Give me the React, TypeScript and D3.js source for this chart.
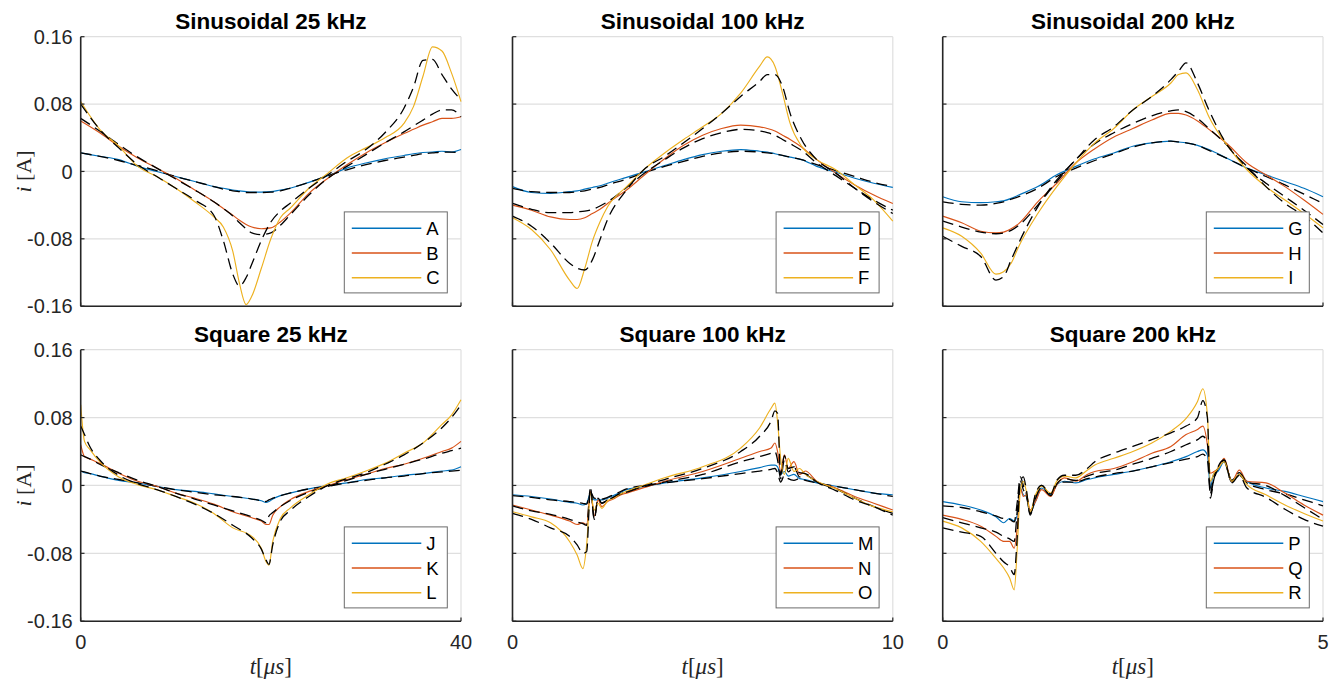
import React from 'react';
import * as d3 from 'd3';

// ---------- data ----------
const panelTitles = ['Sinusoidal 25 kHz', 'Sinusoidal 100 kHz', 'Sinusoidal 200 kHz', 'Square 25 kHz', 'Square 100 kHz', 'Square 200 kHz'];
const panelXMax = [40, 10, 5, 40, 10, 5];
const legendLabels = [['A', 'B', 'C'], ['D', 'E', 'F'], ['G', 'H', 'I'], ['J', 'K', 'L'], ['M', 'N', 'O'], ['P', 'Q', 'R']];
const yTicks = [-0.16, -0.08, 0, 0.08, 0.16];
const yTickLabels = ['-0.16', '-0.08', '0', '0.08', '0.16'];
const seriesColors = ['#0072BD', '#D95319', '#EDB120'];

// Sinusoidal 25 kHz (t in µs)
const p1T = [0, 2, 4, 6, 8, 10, 12, 14, 15, 16, 16.7, 17.4, 18, 19, 20, 21, 22, 24, 26, 28, 30, 32, 34, 35, 36, 37, 38, 39, 40];
const sA = [.022, .018, .014, .006, 0, -.006, -.012, -.018, -.020, -.022, -.023, -.024, -.0245, -.0245, -.024, -.022, -.020, -.013, -.005, .004, .010, .015, .019, .021, .0225, .023, .024, .023, .026];
const mA = [.022, .018, .013, .007, .001, -.006, -.012, -.018, -.021, -.023, -.024, -.025, -.025, -.025, -.0245, -.023, -.020, -.013, -.005, .002, .008, .013, .017, .019, .021, .022, .023, .023, .022];
const sB = [.060, .046, .030, .016, .004, -.008, -.022, -.036, -.044, -.052, -.058, -.063, -.066, -.068, -.067, -.060, -.050, -.026, -.008, .008, .022, .034, .045, .050, .055, .059, .063, .063, .065];
const mB = [.063, .048, .032, .017, .004, -.009, -.022, -.036, -.044, -.053, -.061, -.068, -.073, -.075, -.073, -.064, -.052, -.028, -.008, .006, .020, .034, .047, .054, .061, .068, .073, .073, .065];
const sC = [.083, .050, .030, .006, -.006, -.020, -.036, -.054, -.066, -.095, -.133, -.158, -.148, -.115, -.080, -.055, -.044, -.020, -.002, .016, .028, .040, .057, .077, .113, .148, .143, .117, .083];
const mC = [.080, .050, .028, .008, -.006, -.020, -.034, -.052, -.082, -.122, -.136, -.126, -.110, -.082, -.060, -.047, -.038, -.020, -.004, .012, .026, .046, .075, .100, .132, .133, .115, .098, .085];

// Sinusoidal 100 kHz
const p2T = [0, 0.5, 1, 1.5, 1.7, 1.9, 2.1, 2.3, 2.5, 3, 3.5, 4, 4.5, 5, 5.5, 6, 6.5, 6.7, 6.9, 7.1, 7.3, 7.6, 8, 8.5, 9, 9.5, 10];
const sD = [-.018, -.025, -.026, -.024, -.023, -.021, -.019, -.017, -.014, -.007, .000, .007, .014, .020, .024, .026, .024, .023, .021, .019, .017, .014, .006, -.001, -.008, -.014, -.019];
const mD = [-.020, -.024, -.025, -.025, -.024, -.023, -.021, -.019, -.016, -.009, -.001, .006, .012, .018, .022, .024, .023, .022, .021, .019, .017, .014, .008, .001, -.006, -.013, -.018];
const sE = [-.040, -.046, -.054, -.057, -.057, -.055, -.050, -.045, -.038, -.022, -.003, .015, .031, .043, .051, .055, .053, .051, .048, .043, .038, .029, .014, -.002, -.016, -.028, -.038];
const mE = [-.038, -.045, -.049, -.049, -.048, -.047, -.045, -.041, -.036, -.019, -.001, .014, .028, .039, .046, .050, .048, .046, .043, .038, .033, .025, .010, -.005, -.020, -.034, -.046];
const sF = [-.055, -.069, -.093, -.129, -.139, -.115, -.083, -.060, -.042, -.018, .004, .022, .038, .053, .069, .093, .125, .136, .125, .093, .057, .030, .014, .002, -.016, -.034, -.059];
const mF = [-.053, -.065, -.085, -.109, -.115, -.117, -.105, -.081, -.057, -.022, .004, .018, .034, .051, .069, .089, .107, .115, .115, .101, .069, .038, .014, -.002, -.020, -.036, -.050];

// Sinusoidal 200 kHz
const p3T = [0, 0.25, 0.5, 0.7, 0.8, 0.9, 1, 1.25, 1.5, 1.75, 2, 2.25, 2.5, 2.75, 3, 3.1, 3.2, 3.35, 3.5, 3.75, 4, 4.25, 4.5, 4.75, 5];
const sG = [-.030, -.036, -.037, -.036, -.035, -.032, -.028, -.018, -.004, .006, .015, .022, .030, .034, .036, .035, .034, .031, .026, .015, .004, -.004, -.012, -.020, -.030];
const mG = [-.036, -.039, -.040, -.038, -.036, -.033, -.030, -.020, -.006, .004, .013, .021, .029, .034, .036, .035, .034, .031, .025, .015, .004, -.006, -.016, -.027, -.038];
const sH = [-.053, -.061, -.071, -.073, -.072, -.068, -.062, -.036, -.014, .010, .027, .041, .051, .061, .069, .069, .067, .060, .050, .032, .010, -.004, -.018, -.034, -.051];
const mH = [-.059, -.066, -.072, -.074, -.073, -.070, -.064, -.040, -.012, .014, .033, .046, .057, .066, .072, .073, .071, .063, .051, .030, .004, -.014, -.030, -.046, -.063];
const sI = [-.067, -.077, -.097, -.122, -.119, -.109, -.089, -.050, -.018, .010, .034, .051, .073, .089, .105, .115, .117, .097, .065, .030, .002, -.018, -.034, -.050, -.067];
const mI = [-.077, -.089, -.101, -.129, -.125, -.105, -.085, -.042, -.010, .014, .038, .053, .073, .089, .109, .119, .129, .105, .073, .030, .006, -.018, -.038, -.053, -.073];

// Square 25 kHz
const p4T = [0, 0.4, 1, 2, 4, 6, 8, 10, 12, 14, 16, 18, 19, 19.5, 19.8, 20.2, 21, 22, 24, 26, 28, 30, 32, 34, 36, 38, 39, 40];
const sJ = [.017, .015, .014, .011, .006, .003, -.001, -.005, -.007, -.010, -.013, -.016, -.018, -.020, -.019, -.016, -.012, -.009, -.004, .000, .003, .007, .009, .012, .014, .017, .018, .022];
const mJ = [.017, .016, .014, .011, .007, .003, -.001, -.005, -.008, -.011, -.013, -.016, -.018, -.019, -.017, -.015, -.012, -.009, -.004, -.001, .003, .006, .009, .011, .014, .016, .017, .018];
const sK = [.048, .034, .031, .026, .0145, .005, -.001, -.009, -.015, -.022, -.031, -.038, -.042, -.046, -.046, -.035, -.025, -.017, -.007, .000, .007, .013, .020, .025, .032, .040, .044, .052];
const mK = [.036, .034, .031, .025, .015, .006, -.001, -.009, -.016, -.023, -.030, -.037, -.041, -.044, -.036, -.032, -.025, -.018, -.008, -.001, .006, .013, .019, .025, .031, .038, .041, .044];
const sL = [.095, .052, .042, .028, .010, .001, -.005, -.013, -.021, -.033, -.050, -.060, -.074, -.090, -.094, -.066, -.039, -.027, -.011, .002, .009, .017, .026, .038, .050, .072, .083, .101];
const mL = [.070, .060, .045, .030, .012, .002, -.005, -.013, -.022, -.033, -.047, -.062, -.075, -.088, -.093, -.070, -.042, -.030, -.013, .000, .008, .015, .025, .036, .050, .068, .080, .095];

// Square 100 kHz
const p5T = [0, 0.5, 1, 1.5, 1.7, 1.85, 1.95, 2.05, 2.15, 2.25, 2.35, 2.5, 2.65, 2.8, 3, 3.5, 4, 5, 6, 6.5, 6.8, 6.9, 6.97, 7.05, 7.15, 7.25, 7.4, 7.55, 7.7, 8, 8.5, 9, 9.5, 10];
const sM = [-.011, -.013, -.016, -.020, -.021, -.023, -.021, -.009, -.017, -.017, -.017, -.015, -.012, -.009, -.005, -.001, .003, .009, .0165, .021, .024, .024, .022, .013, .0165, .011, .013, .008, .007, .003, -.001, -.005, -.009, -.011];
const mM = [-.012, -.014, -.017, -.019, -.020, -.021, -.022, -.008, -.015, -.016, -.016, -.014, -.011, -.008, -.004, .000, .003, .008, .014, .017, .019, .020, .015, .004, .012, .008, .006, .008, .006, .003, -.001, -.005, -.009, -.013];
const sN = [-.023, -.029, -.035, -.042, -.046, -.044, -.046, -.007, -.036, -.017, -.025, -.019, -.016, -.012, -.009, -.002, .005, .0165, .032, .040, .044, .050, .040, .0165, .036, .020, .028, .013, .017, .005, -.003, -.013, -.021, -.029];
const mN = [-.024, -.030, -.034, -.040, -.043, -.045, -.047, -.003, -.040, -.015, -.021, -.017, -.014, -.011, -.007, -.001, .004, .013, .028, .034, .038, .040, .030, .008, .030, .016, .022, .010, .012, .004, -.004, -.015, -.025, -.033];
const sO = [-.031, -.037, -.044, -.066, -.082, -.098, -.070, -.009, -.029, -.021, -.027, -.018, -.015, -.011, -.007, .001, .009, .022, .044, .068, .091, .097, .075, .032, .013, .032, .0165, .020, .013, .005, -.004, -.015, -.025, -.031];
const mO = [-.033, -.040, -.050, -.060, -.070, -.080, -.078, -.003, -.040, -.015, -.021, -.017, -.014, -.010, -.008, .000, .007, .020, .040, .058, .076, .088, .085, .012, .035, .020, .022, .015, .014, .004, -.006, -.017, -.025, -.035];

// Square 200 kHz
const p6T = [0, 0.25, 0.5, 0.7, 0.8, 0.88, 0.94, 0.98, 1.02, 1.06, 1.1, 1.15, 1.22, 1.3, 1.42, 1.5, 1.6, 1.75, 1.9, 2, 2.25, 2.5, 2.75, 3, 3.2, 3.35, 3.42, 3.48, 3.52, 3.56, 3.62, 3.7, 3.8, 3.9, 4, 4.25, 4.5, 4.75, 5];
const sP = [-.019, -.023, -.029, -.037, -.044, -.039, -.042, -.035, -.003, -.011, -.013, -.031, -.019, -.003, -.011, .001, .005, .003, .007, .009, .013, .017, .022, .028, .034, .040, .042, .036, -.003, .013, .0165, .028, .005, .013, .005, -.003, -.007, -.013, -.019];
const mP = [-.024, -.026, -.031, -.036, -.039, -.040, -.043, -.020, .010, .000, -.010, -.033, -.015, .000, -.012, .001, .004, .004, .008, .010, .014, .017, .022, .027, .031, .034, .037, .030, -.010, .005, .020, .028, .004, .012, .003, -.005, -.010, -.017, -.024];
const sQ = [-.035, -.040, -.048, -.060, -.066, -.066, -.074, -.050, -.003, -.013, -.011, -.029, -.019, -.005, -.013, .001, .009, .005, .013, .0165, .020, .028, .038, .046, .060, .066, .070, .048, .0145, .016, .020, .032, .005, .018, .005, .003, -.009, -.023, -.035];
const mQ = [-.038, -.044, -.050, -.055, -.060, -.063, -.066, -.030, .005, -.005, -.012, -.033, -.015, -.002, -.012, .002, .008, .006, .011, .014, .018, .025, .032, .040, .048, .054, .058, .050, -.010, .010, .020, .030, .006, .015, .004, .000, -.012, -.026, -.040];
const sR = [-.042, -.050, -.066, -.086, -.097, -.109, -.123, -.074, -.007, .005, -.007, -.031, -.011, -.001, -.009, .005, .011, .009, .018, .024, .032, .040, .050, .064, .079, .099, .114, .083, .005, .013, .020, .028, .005, .013, .001, -.011, -.023, -.033, -.042];
const mR = [-.050, -.055, -.060, -.080, -.090, -.096, -.105, -.060, .005, .010, -.005, -.035, -.010, .000, -.010, .006, .012, .012, .020, .028, .038, .046, .054, .062, .070, .080, .100, .080, -.015, .005, .022, .030, .003, .012, -.003, -.014, -.028, -.040, -.048];

const panelTimes = [p1T, p2T, p3T, p4T, p5T, p6T];
const panelMeasured = [[sA, sB, sC], [sD, sE, sF], [sG, sH, sI], [sJ, sK, sL], [sM, sN, sO], [sP, sQ, sR]];
const panelModels = [[mA, mB, mC], [mD, mE, mF], [mG, mH, mI], [mJ, mK, mL], [mM, mN, mO], [mP, mQ, mR]];

// ---------- layout ----------
const W = 1339;
const H = 685;
const colLeft = [80.7, 512.5, 942.7];
const axW = 380.3;
const rowTop = [36.7, 349.7];
const rowBottom = [306.2, 621.2];
const SANS = '"Liberation Sans", Arial, Helvetica, sans-serif';
const SERIF = '"Liberation Serif", "Times New Roman", serif';
const AX = '#262626';
const GRID = '#dfdfdf';

function Panel({ idx }: { idx: number }) {
  const col = idx % 3;
  const row = Math.floor(idx / 3);
  const left = colLeft[col];
  const right = left + axW;
  const top = rowTop[row];
  const bottom = rowBottom[row];
  const x = d3.scaleLinear().domain([0, panelXMax[idx]]).range([left, right]);
  const y = d3.scaleLinear().domain([-0.16, 0.16]).range([bottom, top]);
  const ts = panelTimes[idx];
  const line = d3.line<number>()
    .x((_, i) => x(ts[i]))
    .y((v) => y(v))
    .curve(d3.curveMonotoneX);
  const clipId = `clip${idx}`;
  const xTicks = [0, panelXMax[idx]];

  const legW = 103;
  const legH = 81;
  const legRight = right - 13.7;
  const legLeft = legRight - legW;
  const legBottom = bottom - 13.3;
  const legTop = legBottom - legH;

  const curves: JSX.Element[] = [];
  for (let s = 0; s < 3; s++) {
    curves.push(
      <path key={`m${s}`} d={line(panelMeasured[idx][s]) || ''} fill="none" stroke={seriesColors[s]} strokeWidth={1.15} strokeLinejoin="round" />
    );
    curves.push(
      <path key={`d${s}`} d={line(panelModels[idx][s]) || ''} fill="none" stroke="#000" strokeWidth={1.3} strokeDasharray="11,6" />
    );
  }

  return (
    <g>
      <defs>
        <clipPath id={clipId}>
          <rect x={left} y={top - 1} width={axW + 1} height={bottom - top + 2} />
        </clipPath>
      </defs>
      {/* grid */}
      {yTicks.map((v) => (
        <line key={`gy${v}`} x1={left} x2={right} y1={y(v)} y2={y(v)} stroke={GRID} strokeWidth={1.2} />
      ))}
      {xTicks.map((v) => (
        <line key={`gx${v}`} x1={x(v)} x2={x(v)} y1={top} y2={bottom} stroke={GRID} strokeWidth={1.2} />
      ))}
      {/* curves */}
      <g clipPath={`url(#${clipId})`}>{curves}</g>
      {/* axes */}
      <line x1={left} x2={left} y1={top} y2={bottom} stroke={AX} strokeWidth={1.6} />
      <line x1={left} x2={right} y1={bottom} y2={bottom} stroke={AX} strokeWidth={1.6} />
      {yTicks.map((v) => (
        <line key={`ty${v}`} x1={left} x2={left + 3.8} y1={y(v)} y2={y(v)} stroke={AX} strokeWidth={1.2} />
      ))}
      {xTicks.map((v) => (
        <line key={`tx${v}`} x1={x(v)} x2={x(v)} y1={bottom} y2={bottom - 3.8} stroke={AX} strokeWidth={1.2} />
      ))}
      {/* y tick labels */}
      {col === 0 && yTicks.map((v, i) => (
        <text key={`yl${v}`} x={left - 8} y={y(v)} dy="0.36em" textAnchor="end" fontFamily={SANS} fontSize={20} fill={AX}>
          {yTickLabels[i]}
        </text>
      ))}
      {/* x tick labels */}
      {row === 1 && xTicks.map((v) => (
        <text key={`xl${v}`} x={x(v)} y={649} textAnchor="middle" fontFamily={SANS} fontSize={20} fill={AX}>
          {String(v)}
        </text>
      ))}
      {/* title */}
      <text x={(left + right) / 2} y={row === 0 ? 28.5 : 341.5} textAnchor="middle" fontFamily={SANS} fontWeight="bold" fontSize={22.5} fill="#000">
        {panelTitles[idx]}
      </text>
      {/* y label */}
      {col === 0 && (
        <text transform={`translate(31, ${(top + bottom) / 2}) rotate(-90)`} textAnchor="middle" fontFamily={SERIF} fontSize={22} fill={AX}>
          <tspan fontStyle="italic">i</tspan>
          <tspan> [A]</tspan>
        </text>
      )}
      {/* x label */}
      {row === 1 && (
        <text x={(left + right) / 2} y={674} textAnchor="middle" fontFamily={SERIF} fontSize={23} fill={AX}>
          <tspan fontStyle="italic">t</tspan>
          <tspan>[</tspan>
          <tspan fontStyle="italic">μs</tspan>
          <tspan>]</tspan>
        </text>
      )}
      {/* legend */}
      <rect x={legLeft} y={legTop} width={legW} height={legH} fill="#fff" stroke="#6b6b6b" strokeWidth={1} />
      {legendLabels[idx].map((lab, i) => {
        const ly = legTop + 16.3 + i * 24.8;
        return (
          <g key={lab}>
            <line x1={legLeft + 7.5} x2={legLeft + 77} y1={ly} y2={ly} stroke={seriesColors[i]} strokeWidth={1.6} />
            <text x={legLeft + 82} y={ly} dy="0.36em" fontFamily={SANS} fontSize={18.5} fill="#000">
              {lab}
            </text>
          </g>
        );
      })}
    </g>
  );
}

export default function App() {
  return (
    <div style={{ position: 'absolute', left: 0, top: 0, width: W, height: H, background: '#fff' }}>
      <svg width={W} height={H} viewBox={`0 0 ${W} ${H}`} style={{ display: 'block' }}>
        <rect width={W} height={H} fill="#fff" />
        {[0, 1, 2, 3, 4, 5].map((i) => (
          <Panel key={i} idx={i} />
        ))}
      </svg>
    </div>
  );
}
